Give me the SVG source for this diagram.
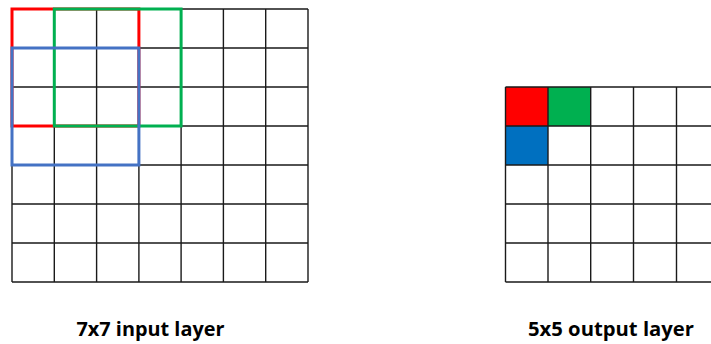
<svg xmlns="http://www.w3.org/2000/svg" width="711" height="344" viewBox="0 0 711 344">
<style>
.g{stroke:#1a1a1a;stroke-width:1.4;fill:none}
.lbl{font-family:"Open Sans","Liberation Sans",sans-serif;font-weight:bold;font-size:19px;fill:#000}
.win{fill:none;stroke-width:3}
</style>
<rect width="711" height="344" fill="#fff"/>
<g id="input-grid">
<path class="g" d="M12,9V282M54.3,9V282M96.6,9V282M138.9,9V282M181.1,9V282M223.4,9V282M265.7,9V282M308,9V282M12,9H308M12,48H308M12,87H308M12,126H308M12,165H308M12,204H308M12,243H308M12,282H308"/>
</g>
<g id="windows">
<rect class="win" x="12" y="9" width="126.9" height="117" stroke="#FF0000"/>
<rect class="win" x="54.3" y="9" width="126.8" height="117" stroke="#00B050"/>
<rect class="win" x="12" y="48" width="126.9" height="117" stroke="#4472C4"/>
</g>
<g id="output-grid">
<rect x="505.5" y="87" width="42.5" height="39" fill="#FF0000"/>
<rect x="548" y="87" width="42.7" height="39" fill="#00B050"/>
<rect x="505.5" y="126" width="42.5" height="39" fill="#0070C0"/>
<path class="g" d="M505.5,87V282M548,87V282M590.7,87V282M633.5,87V282M676.5,87V282M505.5,87H711M505.5,126H711M505.5,165H711M505.5,204H711M505.5,243H711M505.5,282H711"/>
</g>
<g id="labels">
<text class="lbl" x="150.5" y="336" text-anchor="middle" textLength="148" lengthAdjust="spacingAndGlyphs">7x7 input layer</text>
<text class="lbl" x="611" y="336" text-anchor="middle" textLength="166" lengthAdjust="spacingAndGlyphs">5x5 output layer</text>
</g>
</svg>
